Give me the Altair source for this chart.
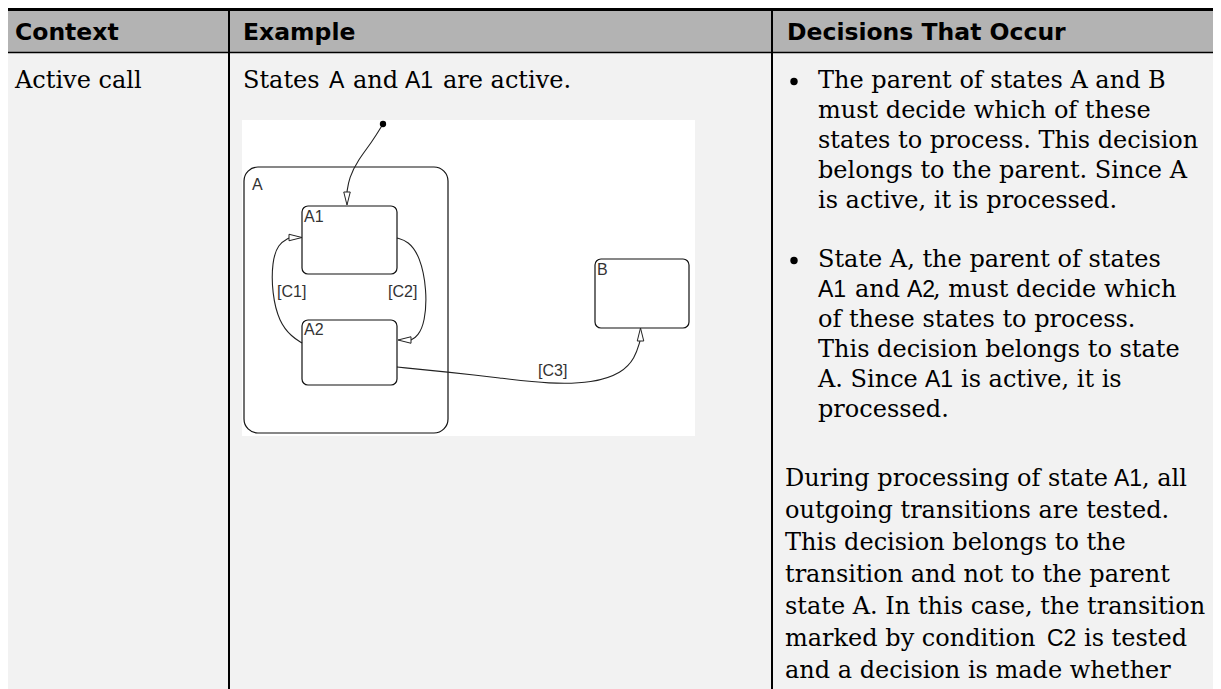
import altair as alt
import pandas as pd

# ---------------- data (texts) ----------------
header_labels = ["Context", "Example", "Decisions That Occur"]
context_texts = ["Active call"]
example_texts = ["States", "A", "and", "A1", "are active."]
example_kinds = ["serif", "sans", "serif", "sans", "serif"]

bullet1_texts = [
    "The parent of states A and B",
    "must decide which of these",
    "states to process. This decision",
    "belongs to the parent. Since A",
    "is active, it is processed.",
]
bullet2_texts = [
    ["State A, the parent of states"],
    ["A1", "and", "A2", ", must decide which"],
    ["of these states to process."],
    ["This decision belongs to state"],
    ["A. Since", "A1", "is active, it is"],
    ["processed."],
]
bullet2_kinds = [
    ["serif"],
    ["sans", "serif", "sans", "serif"],
    ["serif"],
    ["serif"],
    ["serif", "sans", "serif"],
    ["serif"],
]
para_texts = [
    ["During processing of state", "A1", ", all"],
    ["outgoing transitions are tested."],
    ["This decision belongs to the"],
    ["transition and not to the parent"],
    ["state A. In this case, the transition"],
    ["marked by condition", "C2", "is tested"],
    ["and a decision is made whether"],
]
para_kinds = [
    ["serif", "sans", "serif"],
    ["serif"], ["serif"], ["serif"], ["serif"],
    ["serif", "sans", "serif"],
    ["serif"],
]

state_names = ["A", "A1", "A2", "B"]
condition_labels = ["[C1]", "[C2]", "[C3]"]

# ---------------- layout ----------------
X0, X1, Y0, Y1 = 8, 1213, 8, 689
W, H = X1 - X0, Y1 - Y0

header_x = [15, 243, 787]
header_base = 40
context_x = [15]
row_base = 88
example_x = [243, 329, 353, 405, 443]

RX, PX = 818, 785
b1_base = [88, 118, 148, 178, 208]
b2_base = [267, 297, 327, 357, 387, 417]
b2_x = [[RX], [RX, 855, 907, 933], [RX], [RX], [RX, 925, 961], [RX]]
p_base = [486, 518, 550, 582, 614, 646, 678]
p_x = [[PX, 1114, 1142], [PX], [PX], [PX], [PX], [PX, 1047, 1084], [PX]]
bullet_pos = [(794, 81.5), (794, 260.5)]

# background bands: x, x2, y, y2, fill
bands = [
    (X0, X1, 11, 52, "#b3b3b3"),
    (242, 695, 120, 436, "#ffffff"),
]
# rules: x, x2, y, y2, width
rules = [
    (X0, X1, 9.5, 9.5, 3),
    (X0, X1, 52.5, 52.5, 1.6),
    (229, 229, Y0, Y1, 2),
    (772, 772, Y0, Y1, 2),
]
# states: x, x2, y, y2
state_boxes = [
    (244, 448, 167, 433),
    (302, 397, 206, 274),
    (302, 397, 320, 385),
    (595, 689, 259, 328),
]
state_label_pos = [(252, 190), (304, 222), (304, 335), (597, 275)]
cond_label_pos = [(277, 297), (388, 297), (538, 376)]
init_dot = (383, 124)
paths = {
    "init": [(383, 124), (372, 142), (358, 160), (349, 178), (347, 192)],
    "c1": [(302, 343), (292, 337), (279, 322), (272, 293), (272, 262), (278, 244), (289, 238)],
    "c2": [(397, 238), (408, 241), (420, 256), (427, 290), (425, 322), (418, 336), (411, 340)],
    "c3": [(397, 367), (447, 372), (500, 378), (550, 384), (593, 383), (622, 373), (635, 358), (640, 341)],
}
# arrowheads: x, y, angle (pointing down = 0)
arrows = [(347, 198.5, 0), (295.5, 237.5, 270), (404.5, 340, 90), (640.5, 334.5, 180)]

SERIF = "DejaVu Serif"
SANS = "Liberation Sans"
HEAD = "DejaVu Sans"
BODY_SIZE = 24
SANS_SIZE = 23

xs = alt.Scale(domain=[X0, X1], nice=False, zero=False)
ys = alt.Scale(domain=[Y0, Y1], nice=False, zero=False, reverse=True)


def ex(f):
    return alt.X(f, type="quantitative", scale=xs, axis=None)


def ey(f):
    return alt.Y(f, type="quantitative", scale=ys, axis=None)


# ---------------- build tables ----------------
band_df = pd.DataFrame(bands, columns=["x", "x2", "y", "y2", "fill"])
rule_df = pd.DataFrame(rules, columns=["x", "x2", "y", "y2", "w"])
box_df = pd.DataFrame(state_boxes, columns=["x", "x2", "y", "y2"])

segs = []
for t, x in zip(header_labels, header_x):
    segs.append((t, "head", x, header_base))
for t, x in zip(context_texts, context_x):
    segs.append((t, "serif", x, row_base))
for t, k, x in zip(example_texts, example_kinds, example_x):
    segs.append((t, k, x, row_base))
for t, y in zip(bullet1_texts, b1_base):
    segs.append((t, "serif", RX, y))
for line, kinds, xsx, y in zip(bullet2_texts, bullet2_kinds, b2_x, b2_base):
    for t, k, x in zip(line, kinds, xsx):
        segs.append((t, k, x, y))
for line, kinds, xsx, y in zip(para_texts, para_kinds, p_x, p_base):
    for t, k, x in zip(line, kinds, xsx):
        segs.append((t, k, x, y))
seg_df = pd.DataFrame(segs, columns=["text", "kind", "x", "y"])

diag_labels = pd.DataFrame(
    [(t, x, y) for t, (x, y) in zip(state_names + condition_labels, state_label_pos + cond_label_pos)],
    columns=["text", "x", "y"],
)
path_rows = []
for name, pts in paths.items():
    for i, (x, y) in enumerate(pts):
        path_rows.append((name, i, x, y))
path_df = pd.DataFrame(path_rows, columns=["path", "order", "x", "y"])
arrow_df = pd.DataFrame(arrows, columns=["x", "y", "angle"])
dot_df = pd.DataFrame([init_dot], columns=["x", "y"])
bullet_df = pd.DataFrame(bullet_pos, columns=["x", "y"])

# ---------------- layers ----------------
band_layer = alt.Chart(band_df).mark_rect().encode(
    x=ex("x"), x2="x2", y=ey("y"), y2="y2", color=alt.Color("fill:N", scale=None)
)
rule_layer = alt.Chart(rule_df).mark_rule(color="black").encode(
    x=ex("x"), x2="x2", y=ey("y"), y2="y2", strokeWidth=alt.StrokeWidth("w:Q", scale=None)
)


def text_layer(kind, font, size, weight="normal"):
    return alt.Chart(seg_df).transform_filter(alt.datum.kind == kind).mark_text(
        font=font, fontSize=size, fontWeight=weight, align="left", baseline="alphabetic", color="black"
    ).encode(x=ex("x"), y=ey("y"), text="text:N")


head_layer = text_layer("head", HEAD, 23.5, "bold")
serif_layer = text_layer("serif", SERIF, BODY_SIZE)
sans_layer = text_layer("sans", SANS, SANS_SIZE)

bullet_layer = alt.Chart(bullet_df).mark_circle(size=55, color="black", opacity=1).encode(
    x=ex("x"), y=ey("y")
)

box_big = alt.Chart(box_df.iloc[[0]]).mark_rect(
    fillOpacity=0, stroke="#111111", strokeWidth=1.2, cornerRadius=14
).encode(x=ex("x"), x2="x2", y=ey("y"), y2="y2")
box_small = alt.Chart(box_df.iloc[1:]).mark_rect(
    fillOpacity=0, stroke="#111111", strokeWidth=1.2, cornerRadius=6
).encode(x=ex("x"), x2="x2", y=ey("y"), y2="y2")

path_layer = alt.Chart(path_df).mark_line(
    interpolate="basis", color="#222222", strokeWidth=1.1
).encode(x=ex("x"), y=ey("y"), detail="path:N", order="order:Q")

arrow_layer = alt.Chart(arrow_df).mark_point(
    shape="M-0.5,-1L0.5,-1L0,1Z", size=169, filled=True, fill="white",
    stroke="#222222", strokeWidth=1, opacity=1
).encode(x=ex("x"), y=ey("y"), angle=alt.Angle("angle:Q", scale=None))

dot_layer = alt.Chart(dot_df).mark_circle(size=40, color="black", opacity=1).encode(
    x=ex("x"), y=ey("y")
)

diag_text = alt.Chart(diag_labels).mark_text(
    font=SANS, fontSize=16, align="left", baseline="alphabetic", color="#333333"
).encode(x=ex("x"), y=ey("y"), text="text:N")

chart = alt.layer(
    band_layer, rule_layer, head_layer, serif_layer, sans_layer, bullet_layer,
    box_big, path_layer, box_small, arrow_layer, dot_layer, diag_text,
).properties(
    width=W, height=H, padding=0, autosize=alt.AutoSizeParams(type="none"),
    background="#f2f2f2",
).configure_view(stroke=None)

chart.save("out.html", embed_options={"renderer": "svg", "actions": False})
